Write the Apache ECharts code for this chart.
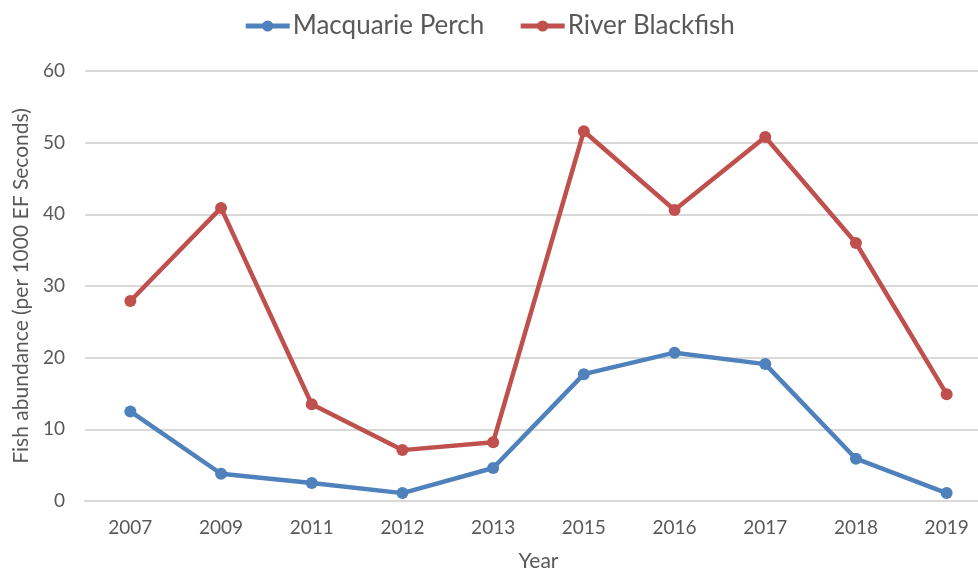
<!DOCTYPE html>
<html>
<head>
<meta charset="utf-8">
<script src="https://cdn.jsdelivr.net/npm/echarts@6/dist/echarts.min.js"></script>
<style>
  html, body { margin: 0; padding: 0; background: #fff; }
  #chart { width: 978px; height: 572px; }
</style>
</head>
<body>
<div id="chart"></div>
<script>
// 数据
var years = ['2007', '2009', '2011', '2012', '2013', '2015', '2016', '2017', '2018', '2019'];
var perch = [12.5, 3.8, 2.5, 1.1, 4.6, 17.7, 20.7, 19.1, 5.9, 1.1];
var blackfish = [27.9, 40.9, 13.5, 7.1, 8.2, 51.6, 40.6, 50.8, 36.0, 14.9];
var yTicks = [0, 60, 10];

var chart = echarts.init(document.getElementById('chart'));

var font = 'Lato, "Open Sans", sans-serif';

var option = {
  textStyle: { fontFamily: font },
  legend: {
    top: 8,
    left: 'center',
    itemWidth: 44,
    itemHeight: 14,
    itemGap: 34,
    lineStyle: { width: 5 },
    textStyle: { fontSize: 26, color: '#595959', fontFamily: font, padding: [0, 0, 0, -2] },
    data: ['Macquarie Perch', 'River Blackfish']
  },
  // 右侧网格线被裁切, 用 width 控制
  grid: { left: 85, width: 907, top: 71, bottom: 71, outerBoundsMode: 'none' },
  xAxis: {
    type: 'category',
    data: years,
    name: 'Year',
    nameLocation: 'middle',
    nameGap: 50,
    nameTextStyle: { fontSize: 21, color: '#595959' },
    axisLine: { lineStyle: { color: '#d9d9d9', width: 2 } },
    axisTick: { show: false },
    axisLabel: { fontSize: 19, color: '#595959', margin: 17 }
  },
  yAxis: {
    type: 'value',
    min: yTicks[0],
    max: yTicks[1],
    interval: yTicks[2],
    name: 'Fish abundance (per 1000 EF Seconds)',
    nameLocation: 'middle',
    nameGap: 52,
    nameTextStyle: { fontSize: 21, color: '#595959' },
    axisLine: { show: false },
    axisTick: { show: false },
    axisLabel: { fontSize: 19, color: '#595959', margin: 20 },
    splitLine: { lineStyle: { color: '#d9d9d9', width: 2 } }
  },
  series: [
    {
      name: 'Macquarie Perch',
      type: 'line',
      data: perch,
      symbol: 'circle',
      symbolSize: 12,
      color: '#4F81BD',
      lineStyle: { width: 4.5, color: '#4F81BD' },
      itemStyle: { color: '#4F81BD' }
    },
    {
      name: 'River Blackfish',
      type: 'line',
      data: blackfish,
      symbol: 'circle',
      symbolSize: 12,
      color: '#C0504D',
      lineStyle: { width: 4.5, color: '#C0504D' },
      itemStyle: { color: '#C0504D' }
    }
  ]
};

chart.setOption(option);
</script>
</body>
</html>
